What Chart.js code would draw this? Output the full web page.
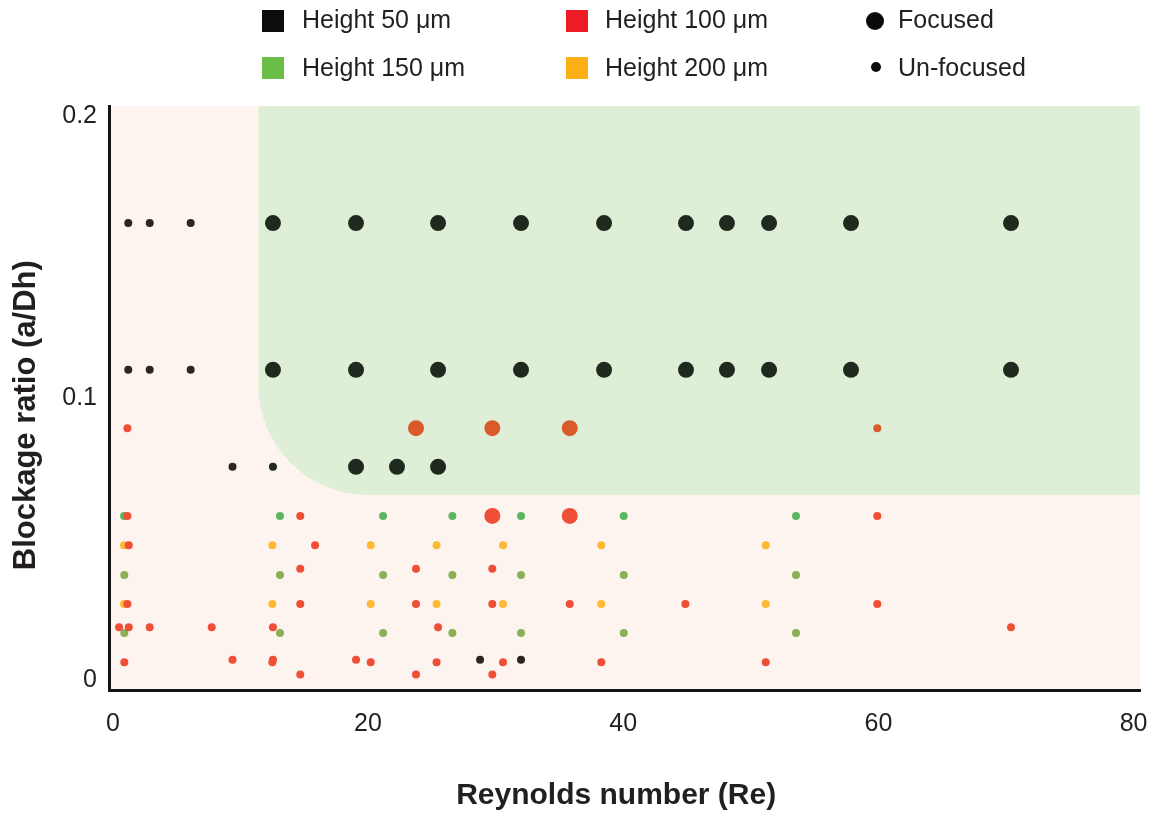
<!DOCTYPE html>
<html>
<head>
<meta charset="utf-8">
<script src="https://cdn.jsdelivr.net/npm/chart.js@4/dist/chart.umd.min.js"></script>
<style>
html,body{margin:0;padding:0;background:#fff;}
#wrap{position:relative;width:1160px;height:817px;font-family:'Liberation Sans',Arial,Helvetica,sans-serif;color:#231f20;}
#c{position:absolute;left:0;top:0;}
.lg{position:absolute;font-size:25px;line-height:30px;white-space:nowrap;}
.sq{position:absolute;width:22px;height:22px;}
.dot{position:absolute;border-radius:50%;background:#0a0a0a;}
</style>
</head>
<body>
<div id="wrap">
  <canvas id="c" width="1160" height="817"></canvas>
  <div class="sq" style="left:262px;top:10px;background:#0d0d0d"></div>
  <div class="lg" style="left:302px;top:4px">Height 50 μm</div>
  <div class="sq" style="left:566px;top:10px;background:#ed1c24"></div>
  <div class="lg" style="left:605px;top:4px">Height 100 μm</div>
  <div class="dot" style="left:866px;top:12px;width:18px;height:18px"></div>
  <div class="lg" style="left:898px;top:4px">Focused</div>
  <div class="sq" style="left:262px;top:57px;background:#6abd45"></div>
  <div class="lg" style="left:302px;top:52px">Height 150 μm</div>
  <div class="sq" style="left:566px;top:57px;background:#fbb116"></div>
  <div class="lg" style="left:605px;top:52px">Height 200 μm</div>
  <div class="dot" style="left:871px;top:62px;width:10px;height:10px"></div>
  <div class="lg" style="left:898px;top:52px">Un-focused</div>
</div>
<script>
// ---- axis ticks ----
const reTicks = [0, 20, 40, 60, 80];
const ratioTicks = [0, 0.1, 0.2];

// ---- focused region (green zone) lower-left bounds ----
const focusReMin = 11.4;
const focusRatioMin = 0.0656;

// ---- data: [Reynolds number, blockage ratio] ----
const h50Focused = [
  [12.55,0.162],[19.06,0.162],[25.49,0.162],[31.99,0.162],[38.50,0.162],
  [44.92,0.162],[48.13,0.162],[51.43,0.162],[57.85,0.162],[70.39,0.162],
  [12.55,0.110],[19.06,0.110],[25.49,0.110],[31.99,0.110],[38.50,0.110],
  [44.92,0.110],[48.13,0.110],[51.43,0.110],[57.85,0.110],[70.39,0.110],
  [19.06,0.0756],[22.27,0.0756],[25.49,0.0756]
];
const h50Unfocused = [
  [1.21,0.162],[2.89,0.162],[6.10,0.162],
  [1.21,0.110],[2.89,0.110],[6.10,0.110],
  [9.38,0.0756],[12.55,0.0756],
  [28.78,0.0072],[31.99,0.0072]
];
const h100Focused = [
  [23.76,0.0893],[29.74,0.0893],[35.81,0.0893],
  [29.74,0.0582],[35.81,0.0582]
];
const h100Unfocused = [
  [1.14,0.0893],[59.91,0.0893],
  [1.14,0.0582],[14.69,0.0582],[59.91,0.0582],
  [1.25,0.0478],[15.85,0.0478],
  [14.69,0.0395],[23.76,0.0395],[29.74,0.0395],
  [1.14,0.0270],[14.69,0.0270],[23.76,0.0270],[29.74,0.0270],[35.81,0.0270],[44.87,0.0270],[59.91,0.0270],
  [0.49,0.0187],[1.25,0.0187],[2.89,0.0187],[7.75,0.0187],[12.55,0.0187],[25.49,0.0187],[70.39,0.0187],
  [9.38,0.0072],[12.55,0.0072],[19.06,0.0072],
  [0.90,0.0063],[12.50,0.0063],[20.21,0.0063],[25.37,0.0063],[30.58,0.0063],[38.28,0.0063],[51.17,0.0063],
  [14.69,0.0020],[23.76,0.0020],[29.74,0.0020]
];
const h150Unfocused = [
  [0.88,0.0582],[13.10,0.0582],[21.18,0.0582],[26.61,0.0582],[31.99,0.0582],[40.04,0.0582],[53.54,0.0582],
  [0.90,0.0373],[13.10,0.0373],[21.18,0.0373],[26.61,0.0373],[31.99,0.0373],[40.04,0.0373],[53.54,0.0373],
  [0.90,0.0167],[13.10,0.0167],[21.18,0.0167],[26.61,0.0167],[31.99,0.0167],[40.04,0.0167],[53.54,0.0167]
];
const h200Unfocused = [
  [0.88,0.0478],[12.50,0.0478],[20.21,0.0478],[25.37,0.0478],[30.58,0.0478],[38.28,0.0478],[51.17,0.0478],
  [0.88,0.0270],[12.50,0.0270],[20.21,0.0270],[25.37,0.0270],[30.58,0.0270],[38.28,0.0270],[51.17,0.0270]
];

const toXY = arr => arr.map(p => ({x: p[0], y: p[1]}));
const inFocus = r => r && r.x > focusReMin && r.y > focusRatioMin;

const redColor = c => inFocus(c.raw) ? '#d95a2b' : '#ef4e37';
const blackColor = c => inFocus(c.raw) ? '#1e2a1d' : '#2b2421';
const greenColor = c => (c.raw && c.raw.y > 0.05) ? '#5cb65f' : '#8caf58';

function ds(label, data, color, r) {
  return {label, data: toXY(data), backgroundColor: color, borderWidth: 0,
          pointRadius: r, pointHoverRadius: r, pointBorderWidth: 0};
}

const regionPlugin = {
  id: 'regions',
  beforeDraw(chart) {
    const {ctx, chartArea: a, scales: {x, y}} = chart;
    ctx.save();
    ctx.fillStyle = '#fdf4ef';
    ctx.fillRect(a.left, a.top, a.right - a.left, a.bottom - a.top);
    const gx = x.getPixelForValue(focusReMin);
    const gy = y.getPixelForValue(focusRatioMin);
    const R = 110;
    ctx.fillStyle = '#dfeed7';
    ctx.beginPath();
    ctx.moveTo(gx, a.top);
    ctx.lineTo(a.right, a.top);
    ctx.lineTo(a.right, gy);
    ctx.lineTo(gx + R, gy);
    ctx.arcTo(gx, gy, gx, gy - R, R);
    ctx.closePath();
    ctx.fill();
    ctx.restore();
  }
};

const font = "'Liberation Sans', Arial, Helvetica, sans-serif";

new Chart(document.getElementById('c'), {
  type: 'scatter',
  data: {
    datasets: [
      ds('Height 100 μm focused', h100Focused, redColor, 8),
      ds('Height 100 μm un-focused', h100Unfocused, redColor, 4),
      ds('Height 50 μm focused', h50Focused, blackColor, 8),
      ds('Height 50 μm un-focused', h50Unfocused, blackColor, 4),
      ds('Height 150 μm un-focused', h150Unfocused, greenColor, 4),
      ds('Height 200 μm un-focused', h200Unfocused, '#fdb933', 4)
    ]
  },
  options: {
    responsive: false,
    devicePixelRatio: 1,
    animation: false,
    events: [],
    layout: {padding: {top: 106, right: 20, left: 0, bottom: 0}},
    plugins: {legend: {display: false}, tooltip: {enabled: false}},
    scales: {
      x: {
        type: 'linear', min: -0.3, max: 80.5,
        afterFit: s => { s.height = 127; },
        afterBuildTicks: s => { s.ticks = reTicks.map(v => ({value: v})); },
        grid: {display: false},
        border: {display: true, color: '#141414', width: 3},
        ticks: {padding: 11, color: '#231f20', font: {family: font, size: 25}, callback: v => String(v)},
        title: {display: true, text: 'Reynolds number (Re)\u00a0\u00a0', color: '#231f20',
                font: {family: font, size: 30, weight: 'bold'}, padding: {top: 0, bottom: 3}}
      },
      y: {
        type: 'linear', min: -0.0035, max: 0.2035,
        afterFit: s => { s.width = 109; },
        afterBuildTicks: s => { s.ticks = ratioTicks.map(v => ({value: v})); },
        grid: {display: false},
        border: {display: true, color: '#141414', width: 3},
        ticks: {padding: 4, color: '#231f20', font: {family: font, size: 25},
                callback: v => v === 0 ? '0' : v.toFixed(1)},
        title: {display: true, text: 'Blockage ratio (a/Dh)\u00a0\u00a0\u00a0\u00a0', color: '#231f20',
                font: {family: font, size: 31, weight: 'bold'}, padding: {top: 8, bottom: 0}}
      }
    }
  },
  plugins: [regionPlugin]
});
</script>
</body>
</html>
